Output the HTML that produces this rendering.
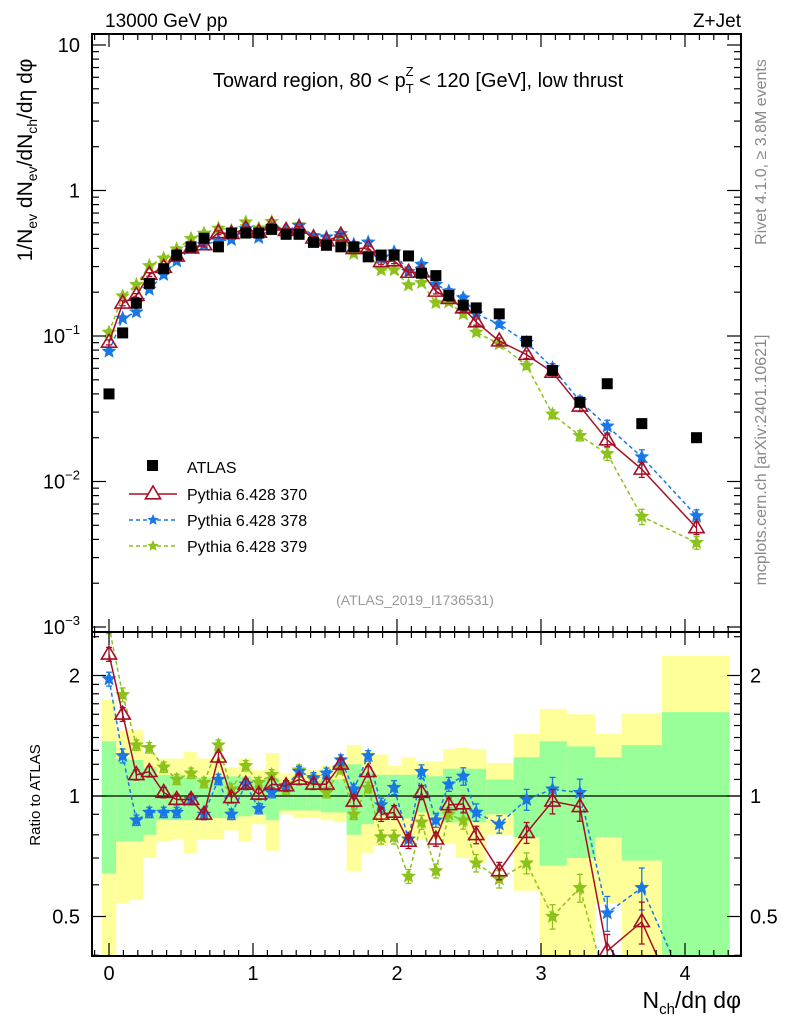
<!DOCTYPE html>
<html><head><meta charset="utf-8"><style>
html,body{margin:0;padding:0;background:#fff;width:786px;height:1024px;overflow:hidden}
svg{display:block;font-family:"Liberation Sans",sans-serif}
</style></head><body>
<svg id="chart" width="786" height="1024" viewBox="0 0 786 1024">
<g id="bands"></g>
<g id="marks"></g>
<g id="axes"></g>
<text x="105" y="27" font-size="19">13000 GeV pp</text>
<text x="741" y="27" font-size="19" text-anchor="end">Z+Jet</text>
<text x="418" y="87" font-size="20" text-anchor="middle">Toward region, 80 &lt; p<tspan font-size="13" dy="6">T</tspan><tspan font-size="13" dx="-8" dy="-17">Z</tspan><tspan dy="11"> &lt; 120 [GeV], low thrust</tspan></text>
<text transform="translate(32,160) rotate(-90)" font-size="21" text-anchor="middle">1/N<tspan font-size="14" dy="5">ev</tspan><tspan dy="-5"> dN</tspan><tspan font-size="14" dy="5">ev</tspan><tspan dy="-5">/dN</tspan><tspan font-size="14" dy="5">ch</tspan><tspan dy="-5">/dη dφ</tspan></text>
<text transform="translate(40,795) rotate(-90)" font-size="15" text-anchor="middle">Ratio to ATLAS</text>
<text x="741" y="1008" font-size="23" text-anchor="end">N<tspan font-size="15" dy="6">ch</tspan><tspan dy="-6">/dη dφ</tspan></text>
<text transform="translate(766,152) rotate(-90)" font-size="16" fill="#888" text-anchor="middle">Rivet 4.1.0, ≥ 3.8M events</text>
<text transform="translate(766,460) rotate(-90)" font-size="16" fill="#888" text-anchor="middle">mcplots.cern.ch [arXiv:2401.10621]</text>
<text x="415" y="605" font-size="14" fill="#999" text-anchor="middle">(ATLAS_2019_I1736531)</text>
<g id="legend">
<rect x="147" y="460" width="11" height="11" fill="#000"/>
<text x="187" y="473" font-size="16">ATLAS</text>
<line x1="129" y1="494" x2="177" y2="494" stroke="#a50f26" stroke-width="1.5"/>
<text x="187" y="500" font-size="16">Pythia 6.428 370</text>
<line x1="129" y1="520" x2="177" y2="520" stroke="#1a78e6" stroke-width="1.5" stroke-dasharray="4,3"/>
<text x="187" y="526" font-size="16">Pythia 6.428 378</text>
<line x1="129" y1="546" x2="177" y2="546" stroke="#8cc21c" stroke-width="1.5" stroke-dasharray="4,3"/>
<text x="187" y="552" font-size="16">Pythia 6.428 379</text>
</g>
</svg>
<script>
const xVals=[0,0.095,0.19,0.28,0.38,0.47,0.57,0.66,0.76,0.85,0.95,1.04,1.13,1.23,1.32,1.42,1.51,1.61,1.70,1.80,1.89,1.98,2.08,2.17,2.27,2.36,2.46,2.55,2.71,2.90,3.08,3.27,3.46,3.70,4.08];
const binEdges=[-0.05,0.05,0.14,0.24,0.33,0.43,0.52,0.61,0.71,0.80,0.90,0.99,1.09,1.18,1.28,1.37,1.47,1.56,1.65,1.75,1.84,1.94,2.03,2.13,2.22,2.32,2.41,2.50,2.62,2.81,2.99,3.18,3.375,3.56,3.84,4.31];
const atlasVals=[0.040,0.105,0.168,0.23,0.29,0.36,0.41,0.47,0.41,0.51,0.51,0.51,0.54,0.50,0.50,0.44,0.42,0.41,0.41,0.35,0.36,0.36,0.355,0.27,0.26,0.19,0.163,0.156,0.142,0.092,0.058,0.035,0.047,0.025,0.020];
const ratio370=[2.26,1.60,1.13,1.15,1.02,0.98,0.98,0.90,1.25,0.99,1.07,1.01,1.07,1.06,1.10,1.07,1.07,1.20,0.97,1.15,0.90,0.91,0.77,1.02,0.78,0.95,0.955,0.80,0.65,0.81,0.97,0.94,0.41,0.485,0.24];
const ratio378=[1.96,1.26,0.87,0.91,0.91,0.91,0.98,0.90,1.10,0.90,1.07,0.93,1.02,1.06,1.15,1.11,1.14,1.23,1.04,1.26,0.95,1.05,0.78,1.15,0.87,1.07,1.12,0.91,0.85,0.98,1.04,1.02,0.51,0.59,0.29];
const ratio379=[2.65,1.79,1.34,1.32,1.18,1.10,1.14,1.08,1.34,1.04,1.19,1.08,1.13,1.04,1.16,1.10,1.02,1.17,0.90,1.05,0.79,0.79,0.63,0.86,0.65,0.90,0.87,0.68,0.62,0.68,0.50,0.59,0.33,0.23,0.19];
const mcRelErr=[0.04,0.04,0.03,0.03,0.03,0.03,0.03,0.03,0.03,0.03,0.03,0.03,0.03,0.03,0.03,0.03,0.03,0.03,0.03,0.03,0.04,0.04,0.04,0.04,0.04,0.04,0.05,0.05,0.05,0.06,0.07,0.08,0.1,0.12,0.1];
const yellowTop=[1.74,1.46,1.46,1.28,1.24,1.24,1.29,1.24,1.24,1.18,1.24,1.16,1.28,1.14,1.14,1.16,1.19,1.15,1.34,1.29,1.27,1.19,1.25,1.22,1.22,1.31,1.32,1.31,1.21,1.43,1.65,1.60,1.43,1.61,2.24];
const yellowBot=[0.3,0.54,0.55,0.70,0.77,0.78,0.72,0.78,0.78,0.82,0.77,0.85,0.73,0.90,0.88,0.88,0.87,0.86,0.65,0.72,0.75,0.80,0.76,0.78,0.78,0.76,0.70,0.68,0.80,0.58,0.3,0.3,0.54,0.3,0.3];
const greenTop=[1.37,1.24,1.23,1.18,1.13,1.13,1.11,1.11,1.11,1.12,1.12,1.10,1.11,1.08,1.08,1.09,1.10,1.10,1.20,1.15,1.13,1.13,1.13,1.13,1.12,1.17,1.17,1.17,1.10,1.25,1.37,1.33,1.25,1.34,1.62];
const greenBot=[0.64,0.77,0.77,0.80,0.87,0.87,0.87,0.88,0.88,0.88,0.89,0.90,0.87,0.92,0.92,0.92,0.91,0.91,0.80,0.85,0.89,0.88,0.88,0.91,0.89,0.86,0.86,0.86,0.90,0.79,0.67,0.70,0.79,0.69,0.3];
const mainTicks=["10⁻³","10⁻²","10⁻¹","1","10"];

const NS="http://www.w3.org/2000/svg";
const L=92,R=741,MT=34,MB=632,RT=632,RB=956;
const X=v=>109+v*144;
const Y=v=>336-(Math.log10(v)+1)*145.5;
const YR=v=>796-Math.log2(v)*120.5;
function mk(parent,tag,attrs){const e=document.createElementNS(NS,tag);for(const k in attrs)e.setAttribute(k,attrs[k]);parent.appendChild(e);return e;}
const bands=document.getElementById('bands'),marks=document.getElementById('marks'),axes=document.getElementById('axes');
function cy(y){return Math.min(RB,Math.max(RT,y));}
for(let i=0;i<xVals.length;i++){
  const x0=Math.max(L,X(binEdges[i])),x1=X(binEdges[i+1]);
  const yb=mk(bands,'rect',{x:x0,y:cy(YR(yellowTop[i])),width:x1-x0,height:cy(YR(yellowBot[i]))-cy(YR(yellowTop[i])),fill:'#ffff99'});
  
  
  const gb=mk(bands,'rect',{x:x0,y:cy(YR(greenTop[i])),width:x1-x0,height:cy(YR(greenBot[i]))-cy(YR(greenTop[i])),fill:'#99ff99'});
  
  
}
mk(bands,'line',{x1:L,x2:R,y1:YR(1),y2:YR(1),stroke:'#000','stroke-width':1.2});
const defs=mk(document.getElementById('chart'),'defs',{});
const cpM=mk(defs,'clipPath',{id:'cm'});mk(cpM,'rect',{x:L,y:MT,width:R-L,height:MB-MT});
const cpR=mk(defs,'clipPath',{id:'cr'});mk(cpR,'rect',{x:L,y:RT,width:R-L,height:RB-RT});
const gM=mk(marks,'g',{'clip-path':'url(#cm)'}),gR=mk(marks,'g',{'clip-path':'url(#cr)'});
function star(cx,cyy,r){let p='';for(let k=0;k<10;k++){const a=-Math.PI/2+k*Math.PI/5;const rr=k%2?r*0.45:r;p+=(k?'L':'M')+(cx+rr*Math.cos(a)).toFixed(1)+','+(cyy+rr*Math.sin(a)).toFixed(1);}return p+'Z';}
function tri(cx,cyy,r){return `M${cx},${cyy-r}L${cx+r*0.95},${cyy+r*0.6}L${cx-r*0.95},${cyy+r*0.6}Z`;}
const series=[
 {name:'pythia-370',r:ratio370,c:'#a50f26',dash:'',mk:'tri'},
 {name:'pythia-378',r:ratio378,c:'#1a78e6',dash:'4,3',mk:'star'},
 {name:'pythia-379',r:ratio379,c:'#8cc21c',dash:'4,3',mk:'star'}];
series.slice().reverse().forEach(s=>{
  [[gM,(i)=>Y(s.r[i]*atlasVals[i]),(i,f)=>Y(s.r[i]*atlasVals[i]*f)],[gR,(i)=>YR(s.r[i]),(i,f)=>YR(s.r[i]*f)]].forEach(([g,fy,fe],pi)=>{
    let d='';xVals.forEach((x,i)=>{d+=(i?'L':'M')+X(x).toFixed(1)+','+fy(i).toFixed(1);});
    const ln=mk(g,'path',{d:d,fill:'none',stroke:s.c,'stroke-width':1.5,'stroke-dasharray':s.dash});
    
    
    xVals.forEach((x,i)=>{
      const px=X(x),py=fy(i);
      mk(g,'line',{x1:px,x2:px,y1:fe(i,1+mcRelErr[i]),y2:fe(i,1-mcRelErr[i]),stroke:s.c,'stroke-width':1.3});
      mk(g,'line',{x1:px-3,x2:px+3,y1:fe(i,1+mcRelErr[i]),y2:fe(i,1+mcRelErr[i]),stroke:s.c,'stroke-width':1.3});
      mk(g,'line',{x1:px-3,x2:px+3,y1:fe(i,1-mcRelErr[i]),y2:fe(i,1-mcRelErr[i]),stroke:s.c,'stroke-width':1.3});
      const m=s.mk==='tri'?mk(g,'path',{d:tri(px,py,8),fill:'none',stroke:s.c,'stroke-width':1.6}):mk(g,'path',{d:star(px,py,6.5),fill:s.c,stroke:s.c,'stroke-width':1});
      
      
    });
  });
});
atlasVals.forEach((v,i)=>{
  const sq=mk(gM,'rect',{x:X(xVals[i])-5.5,y:Y(v)-5.5,width:11,height:11,fill:'#000'});
  
  
});
const lg=document.getElementById('legend');
mk(lg,'path',{d:tri(153,494,8),fill:'#fff',stroke:'#a50f26','stroke-width':1.6});
mk(lg,'path',{d:star(153,520,6),fill:'#1a78e6'});
mk(lg,'path',{d:star(153,546,6),fill:'#8cc21c'});
mk(axes,'rect',{x:L,y:MT,width:R-L,height:MB-MT,fill:'none',stroke:'#000','stroke-width':2});
mk(axes,'rect',{x:L,y:RT,width:R-L,height:RB-RT,fill:'none',stroke:'#000','stroke-width':2});
for(let k=-1;k<=44;k++){const v=k/10;const px=X(v);if(px<L||px>R)continue;const maj=k%10===0;const len=maj?13:6;
  [[MT,1],[MB,-1],[RT,1],[RB,-1]].forEach(([y0,dir])=>mk(axes,'line',{x1:px,x2:px,y1:y0,y2:y0+dir*len,stroke:'#000','stroke-width':1.2}));
  if(maj){const t=mk(axes,'text',{x:px,y:980,'font-size':20,'text-anchor':'middle'});t.textContent=String(k/10);
    
    }
}
for(let e=-3;e<=1;e++){for(let m=1;m<=9;m++){const v=m*Math.pow(10,e);const py=Y(v);if(py<MT||py>MB+1)continue;const len=m===1?14:7;
  mk(axes,'line',{x1:L,x2:L+len,y1:py,y2:py,stroke:'#000','stroke-width':1.2});
  mk(axes,'line',{x1:R,x2:R-len,y1:py,y2:py,stroke:'#000','stroke-width':1.2});}
  const t=mk(axes,'text',{x:80,y:Y(Math.pow(10,e))+7,'font-size':20,'text-anchor':'end'});
  const lab=mainTicks[e+3];
  if(lab.length>2){t.innerHTML='10<tspan font-size="13" dy="-9">'+lab.slice(2).replace('⁻','−').replace('³','3').replace('²','2').replace('¹','1')+'</tspan>';}else t.textContent=lab;
  
  
}
[0.4,0.5,0.6,0.7,0.8,0.9,1,1.1,1.2,1.3,1.4,1.5,1.6,1.7,1.8,1.9,2,2.5].forEach(v=>{const py=YR(v);if(py<RT||py>RB)return;const maj=(v===0.5||v===1||v===2);const len=maj?14:7;
  mk(axes,'line',{x1:L,x2:L+len,y1:py,y2:py,stroke:'#000','stroke-width':1.2});
  mk(axes,'line',{x1:R,x2:R-len,y1:py,y2:py,stroke:'#000','stroke-width':1.2});
  if(maj){[[80,'end'],[750,'start']].forEach(([tx,an])=>{const t=mk(axes,'text',{x:tx,y:py+7,'font-size':20,'text-anchor':an});t.textContent=String(v);
    
    });}
});
</script>
</body></html>
